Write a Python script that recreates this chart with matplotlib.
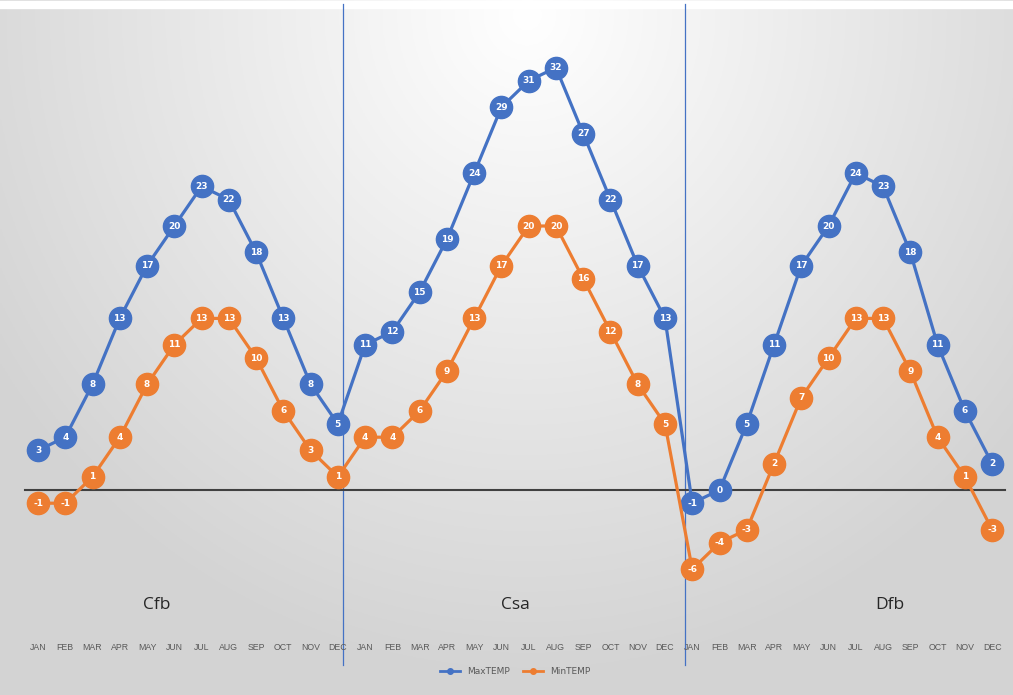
import numpy as np
import matplotlib
matplotlib.use("Agg")
import matplotlib.pyplot as plt
from matplotlib.lines import Line2D

months = ["JAN", "FEB", "MAR", "APR", "MAY", "JUN", "JUL", "AUG", "SEP", "OCT", "NOV", "DEC"]
climates = ["Cfb", "Csa", "Dfb"]

max_cfb = [3, 4, 8, 13, 17, 20, 23, 22, 18, 13, 8, 5]
min_cfb = [-1, -1, 1, 4, 8, 11, 13, 13, 10, 6, 3, 1]
max_csa = [11, 12, 15, 19, 24, 29, 31, 32, 27, 22, 17, 13]
min_csa = [4, 4, 6, 9, 13, 17, 20, 20, 16, 12, 8, 5]
max_dfb = [-1, 0, 5, 11, 17, 20, 24, 23, 18, 11, 6, 2]
min_dfb = [-6, -4, -3, 2, 7, 10, 13, 13, 9, 4, 1, -3]

max_temp = max_cfb + max_csa + max_dfb
min_temp = min_cfb + min_csa + min_dfb
x = np.arange(len(max_temp))

BLUE = "#4472C4"
ORANGE = "#ED7D31"

W, H = 1013, 695
fig = plt.figure(figsize=(W / 100, H / 100), dpi=100)

# soft radial grey-to-white backdrop
bg = fig.add_axes([0, 0, 1, 1], zorder=0)
gx, gy = np.meshgrid(np.linspace(0, 1, 400), np.linspace(0, 1, 300))
d = np.sqrt(((gx - 0.52) / 0.62) ** 2 + ((gy - 0.02) / 0.95) ** 2)
shade = 1.0 - 0.17 * np.clip(d, 0, 1)
bg.imshow(np.dstack([shade, shade, shade]), extent=[0, 1, 0, 1], aspect="auto", origin="upper")
bg.axhline(0.993, color="white", lw=6)
bg.set_xlim(0, 1)
bg.set_ylim(0, 1)
bg.axis("off")

# plot area: zero line sits at y=490px, ~13.2 px per degree
ax = fig.add_axes([0.0, 1 - 632 / H, 1.0, 625 / H], zorder=1)
ax.patch.set_alpha(0)
px_x = 27.26
ax.set_xlim(-38 / px_x, (W - 38) / px_x)
ppu = 13.2
ax.set_ylim(-(632 - 490) / ppu, (490 - 7) / ppu)
for s in ax.spines.values():
    s.set_visible(False)
ax.tick_params(axis="y", left=False, labelleft=False)
ax.tick_params(axis="x", length=0, pad=8)
ax.set_xticks(x)
ax.set_xticklabels(months * 3, fontsize=6.3, color="#595959", family="Liberation Sans")

ax.axhline(0, xmin=25 / W, xmax=1005 / W, color="#404040", lw=1.5, zorder=2)
for sep in [11.2, 23.72]:
    ax.plot([sep, sep], [ax.get_ylim()[0] - 2.5, ax.get_ylim()[1] + 0.2], color=BLUE,
            lw=0.9, clip_on=False, zorder=1)

# group names under each block of months
for name, xpos in zip(climates, [4.37, 17.5, 31.25]):
    ax.text(xpos, -8.7, name, fontsize=12.5, color="#262626",
            ha="center", va="center", family="Open Sans")

for vals, col in [(max_temp, BLUE), (min_temp, ORANGE)]:
    ax.plot(x, vals, color=col, lw=2.3, marker="o", markersize=16,
            markerfacecolor=col, markeredgecolor=col, zorder=3)
    for xi, v in zip(x, vals):
        ax.text(xi, v, str(v), color="white", fontsize=6.5, fontweight="bold",
                ha="center", va="center", zorder=4)

handles = [Line2D([0], [0], color=BLUE, lw=2, marker="o", markersize=4),
           Line2D([0], [0], color=ORANGE, lw=2, marker="o", markersize=4)]
fig.legend(handles, ["MaxTEMP", "MinTEMP"], loc="center", bbox_to_anchor=(515 / W, 1 - 672 / H),
           ncol=2, frameon=False, fontsize=6.5, handlelength=2.2, columnspacing=1.5,
           labelcolor="#595959")

fig.savefig("out.png", dpi=100)
